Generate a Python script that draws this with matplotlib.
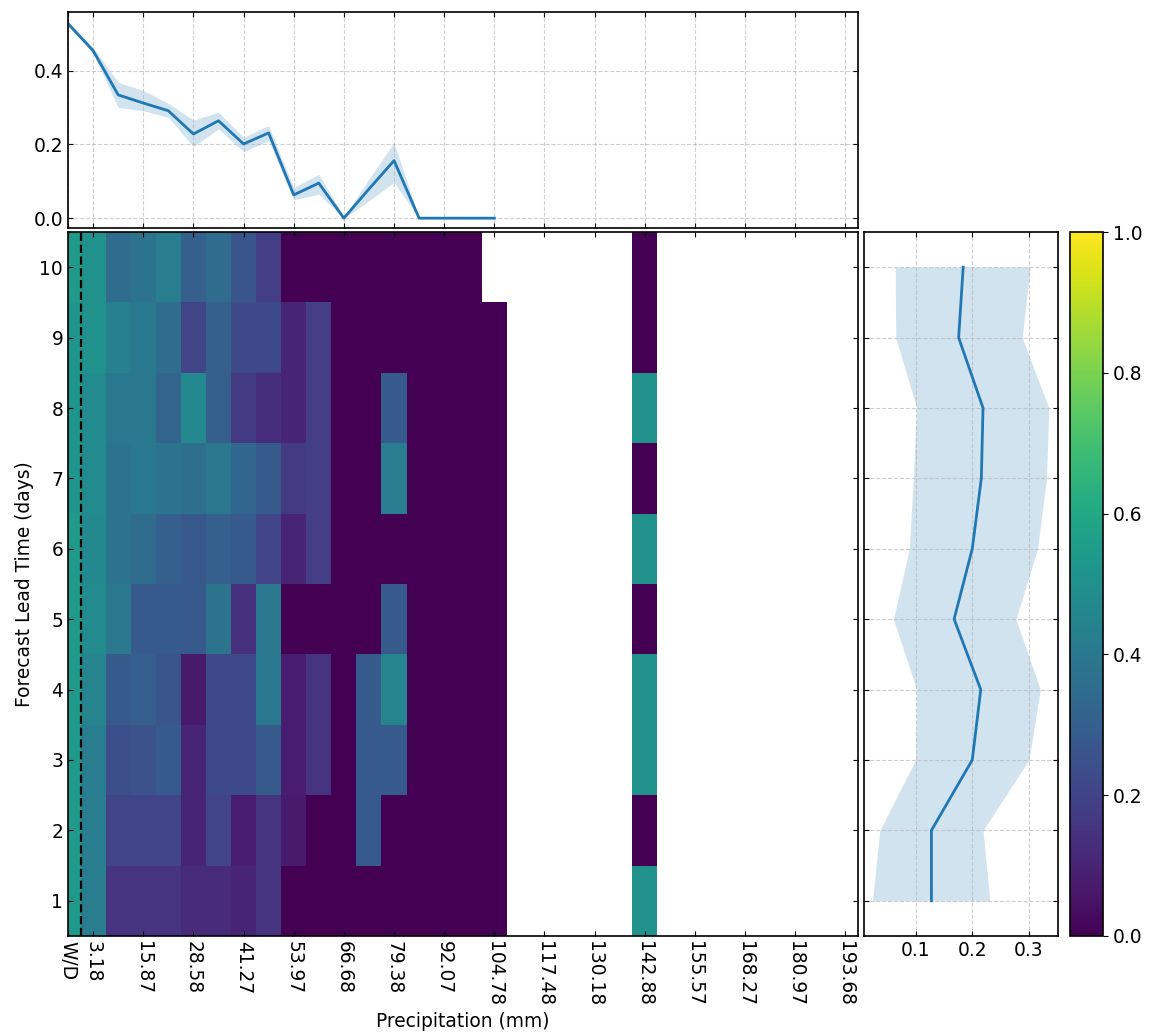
import numpy as np
import matplotlib
matplotlib.use("Agg")
import matplotlib.pyplot as plt
from matplotlib.ticker import MultipleLocator

# precipitation bins (mm): W/D bin + 31 bins of 1/4 inch
bin_width = 6.35
n_bins = 32

lead_days = [1, 2, 3, 4, 5, 6, 7, 8, 9, 10]

# fraction per lead time, first 18 bins (W/D, 0-6.35, ... , 101.6-107.95); nan = no data
hit_rows = [
    [0.54, 0.42, 0.15, 0.15, 0.15, 0.12, 0.12, 0.10, 0.15, 0, 0, 0, 0, 0, 0, 0, 0, 0],
    [0.54, 0.42, 0.20, 0.20, 0.20, 0.10, 0.20, 0.08, 0.15, 0.07, 0, 0, 0.28, 0, 0, 0, 0, 0],
    [0.54, 0.42, 0.24, 0.25, 0.28, 0.10, 0.22, 0.22, 0.28, 0.08, 0.15, 0, 0.28, 0.28, 0, 0, 0, 0],
    [0.54, 0.45, 0.28, 0.30, 0.26, 0.07, 0.22, 0.22, 0.40, 0.08, 0.15, 0, 0.28, 0.45, 0, 0, 0, 0],
    [0.54, 0.48, 0.40, 0.28, 0.28, 0.28, 0.38, 0.14, 0.40, 0, 0, 0, 0, 0.28, 0, 0, 0, 0],
    [0.54, 0.47, 0.38, 0.35, 0.30, 0.27, 0.30, 0.28, 0.20, 0.10, 0.18, 0, 0, 0, 0, 0, 0, 0],
    [0.52, 0.48, 0.38, 0.40, 0.38, 0.36, 0.40, 0.33, 0.28, 0.17, 0.18, 0, 0, 0.42, 0, 0, 0, 0],
    [0.52, 0.48, 0.40, 0.40, 0.32, 0.47, 0.30, 0.17, 0.13, 0.10, 0.18, 0, 0, 0.28, 0, 0, 0, 0],
    [0.52, 0.50, 0.43, 0.40, 0.35, 0.20, 0.30, 0.22, 0.22, 0.10, 0.18, 0, 0, 0, 0, 0, 0, 0],
    [0.54, 0.50, 0.35, 0.38, 0.42, 0.30, 0.35, 0.26, 0.18, 0, 0, 0, 0, 0, 0, 0, 0, np.nan],
]
# lone bin at 139.7-146.05 mm (index 23)
extra_bin = 23
extra_vals = [0.5, 0, 0.5, 0.5, 0, 0.5, 0, 0.5, 0, 0]

# top marginal: mean over lead times with band
top_mean = [0.527, 0.454, 0.334, 0.312, 0.291, 0.228, 0.264, 0.201, 0.231,
            0.063, 0.095, 0.0, 0.079, 0.156, 0.0, 0.0, 0.0, 0.0]
top_lo = [0.522, 0.446, 0.300, 0.291, 0.273, 0.194, 0.242, 0.180, 0.210,
          0.050, 0.065, 0.0, 0.047, 0.097, 0.0, 0.0, 0.0, 0.0]
top_hi = [0.532, 0.462, 0.368, 0.346, 0.311, 0.266, 0.287, 0.219, 0.251,
          0.083, 0.119, 0.004, 0.106, 0.205, 0.0, 0.0, 0.0, 0.0]

# right marginal: mean over bins per lead time with band
right_mean = [0.128, 0.128, 0.200, 0.215, 0.168, 0.200, 0.216, 0.219, 0.176, 0.184]
right_lo = [0.024, 0.037, 0.100, 0.102, 0.061, 0.089, 0.096, 0.102, 0.065, 0.064]
right_hi = [0.231, 0.219, 0.300, 0.320, 0.277, 0.315, 0.331, 0.335, 0.288, 0.302]

tick_labels = ["W/D", "3.18", "15.87", "28.58", "41.27", "53.97", "66.68", "79.38",
               "92.07", "104.78", "117.48", "130.18", "142.88", "155.57", "168.27",
               "180.97", "193.68"]

plt.rcParams['font.size'] = 13.4
plt.rcParams['axes.linewidth'] = 1.2

# ── build grid ──
Z = np.full((len(lead_days), n_bins), np.nan)
for r, row in enumerate(hit_rows):
    Z[r, :len(row)] = row
    Z[r, extra_bin] = extra_vals[r]
Z = np.ma.masked_invalid(Z)

x_edges = (np.arange(n_bins + 1) - 1) * bin_width
x_centers = (x_edges[:-1] + x_edges[1:]) / 2
y_edges = np.arange(len(lead_days) + 1) + 0.5
tick_pos = np.concatenate([[x_centers[0]], x_centers[1::2]])
xlim = (x_centers[0], x_edges[-1])

fig = plt.figure(figsize=(11.53, 10.34), dpi=100)
ax = fig.add_axes([0.059, 0.0948, 0.6851, 0.6808])
ax_top = fig.add_axes([0.059, 0.7795, 0.6851, 0.2089], sharex=ax)
ax_right = fig.add_axes([0.7493, 0.0948, 0.1687, 0.6808], sharey=ax)
cax = fig.add_axes([0.928, 0.0948, 0.0286, 0.6808])

mesh = ax.pcolormesh(x_edges, y_edges, Z, cmap='viridis', vmin=0, vmax=1)
ax.axvline(0, color='black', linestyle='--', linewidth=1.6)
ax.set_xlim(*xlim)
ax.set_ylim(0.5, 10.5)
ax.set_xticks(tick_pos)
ax.set_xticklabels(tick_labels, rotation=270)
ax.set_yticks(lead_days)
ax.set_xlabel('Precipitation (mm)')
ax.set_ylabel('Forecast Lead Time (days)')
ax.tick_params(direction='in', top=True, right=True)

# top marginal
n_top = len(top_mean)
ax_top.plot(x_centers[:n_top], top_mean, color='#1f77b4', linewidth=2)
ax_top.fill_between(x_centers[:n_top], top_lo, top_hi, color='#1f77b4', alpha=0.2, linewidth=0)
ax_top.yaxis.set_major_locator(MultipleLocator(0.2))
ax_top.grid(True, linestyle='--', alpha=0.6)
ax_top.tick_params(direction='in', top=True, right=True, labelbottom=False)

# right marginal
ax_right.plot(right_mean, lead_days, color='#1f77b4', linewidth=2)
ax_right.fill_betweenx(lead_days, right_lo, right_hi, color='#1f77b4', alpha=0.2, linewidth=0)
ax_right.set_xlim(0.009, 0.352)
ax_right.set_xticks([0.1, 0.2, 0.3])
ax_right.grid(True, linestyle='--', alpha=0.6)
ax_right.tick_params(direction='in', top=True, right=True, labelleft=False)

fig.colorbar(mesh, cax=cax)

fig.savefig('out.png', dpi=100)
